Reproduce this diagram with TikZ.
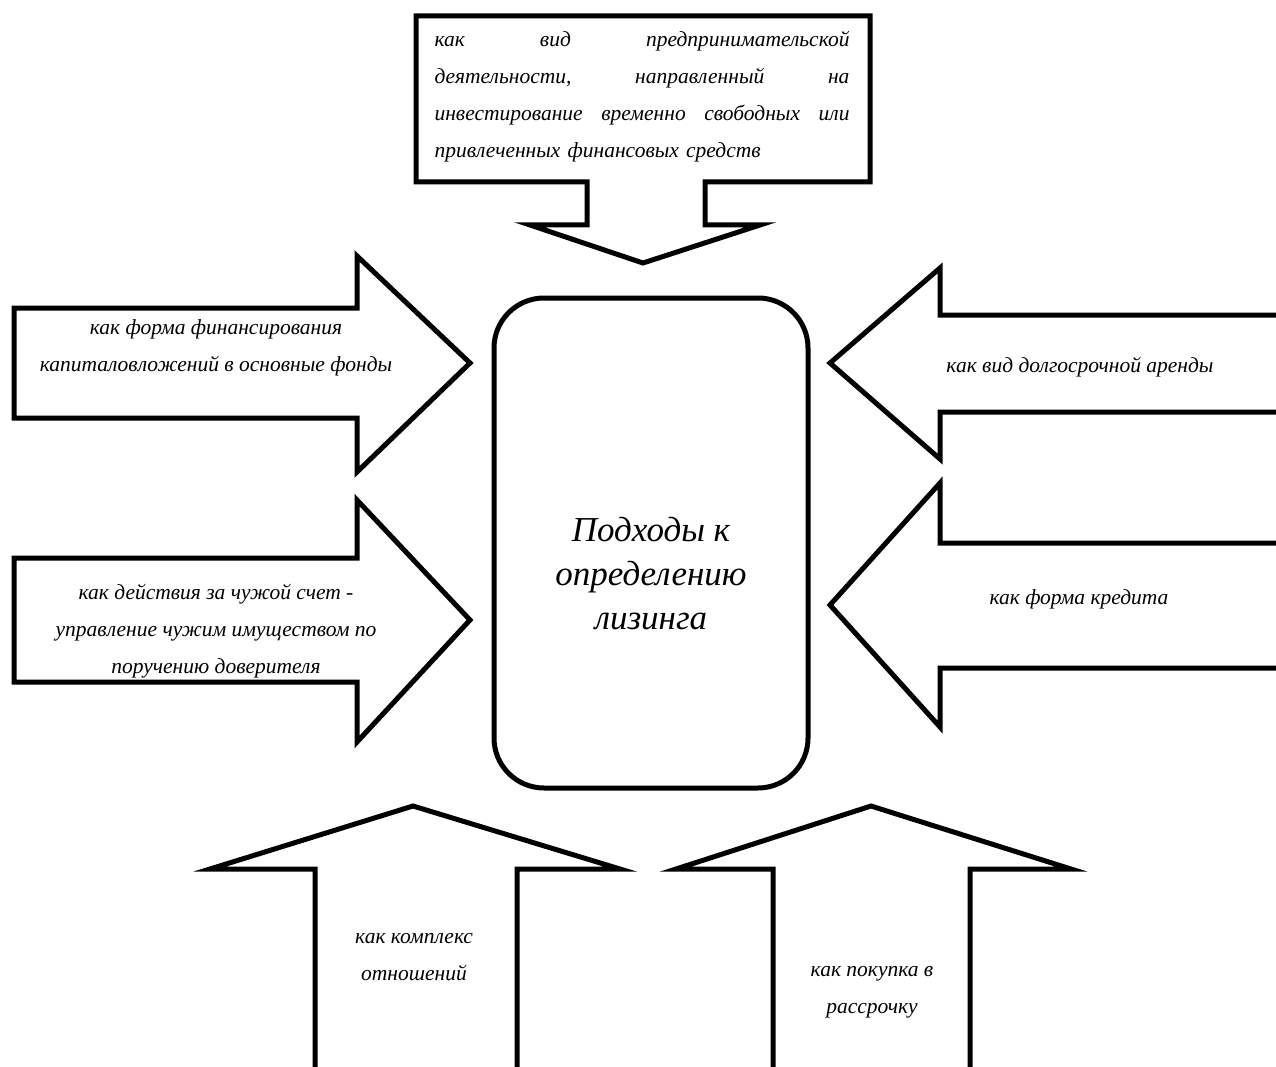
\documentclass[tikz,border=0pt]{standalone}
\usepackage{fontspec}
\setmainfont{Liberation Serif}
\usepackage{tikz}
\usetikzlibrary{shapes.geometric}
\usetikzlibrary{arrows}

\begin{document}
\begin{tikzpicture}[x = 1pt, y = -1pt,
        blockarrow/.style = {line width = 5pt, line join = miter},
        arrowtext/.style = {font = \fontsize{21.5}{37}\selectfont\itshape, align = center}]
        \useasboundingbox (0, 0) rectangle (1276, 1067);

        \draw[blockarrow] (416, 16) -- (870, 16) -- (870, 182) -- (705, 182) -- (705, 225)
            -- (760, 225) -- (643, 263) -- (530, 225) -- (587, 225) -- (587, 182)
            -- (416, 182) -- cycle;
        \draw[blockarrow] (14, 308) -- (357, 308) -- (357, 256) -- (470, 363)
            -- (357, 472) -- (357, 418) -- (14, 418) -- cycle;
        \draw[blockarrow] (14, 558) -- (357, 558) -- (357, 500) -- (470, 620)
            -- (357, 742) -- (357, 682) -- (14, 682) -- cycle;
        \draw[blockarrow] (1285, 315) -- (940, 315) -- (940, 268) -- (830, 363)
            -- (940, 459) -- (940, 412) -- (1285, 412);
        \draw[blockarrow] (1285, 543) -- (940, 543) -- (940, 483) -- (830, 605)
            -- (940, 727) -- (940, 668) -- (1285, 668);
        \draw[blockarrow] (315, 1075) -- (315, 869) -- (210, 869) -- (413, 806)
            -- (620, 869) -- (517, 869) -- (517, 1075);
        \draw[blockarrow] (773, 1075) -- (773, 869) -- (676, 869) -- (871, 806)
            -- (1071, 869) -- (970, 869) -- (970, 1075);

        \draw[blockarrow, rounded corners = 50pt] (494, 298) rectangle (808, 788);

        \node[font = \fontsize{35}{44}\selectfont\itshape, align = center] (lizing) at (651, 574)
            {Подходы к\\определению\\лизинга};

        \node[arrowtext, text width = 415pt, align = left] (predpr) at (642, 97)
            {как \hfill вид \hfill предпринимательской\\
             деятельности, \hfill направленный \hfill на\\
             инвестирование \hfill временно \hfill свободных \hfill или\\
             привлеченных финансовых средств};
        \node[arrowtext] (finans) at (216, 348)
            {как форма финансирования\\капиталовложений в основные фонды};
        \node[arrowtext] (chuzhoj) at (216, 631)
            {как действия за чужой счет -\\управление чужим имуществом по\\поручению доверителя};
        \node[arrowtext] (arenda) at (1080, 367) {как вид долгосрочной аренды};
        \node[arrowtext] (kredit) at (1079, 599) {как форма кредита};
        \node[arrowtext] (kompleks) at (414, 957) {как комплекс\\отношений};
        \node[arrowtext] (pokupka) at (872, 992) {как покупка в\\рассрочку};
\end{tikzpicture}
\end{document}
